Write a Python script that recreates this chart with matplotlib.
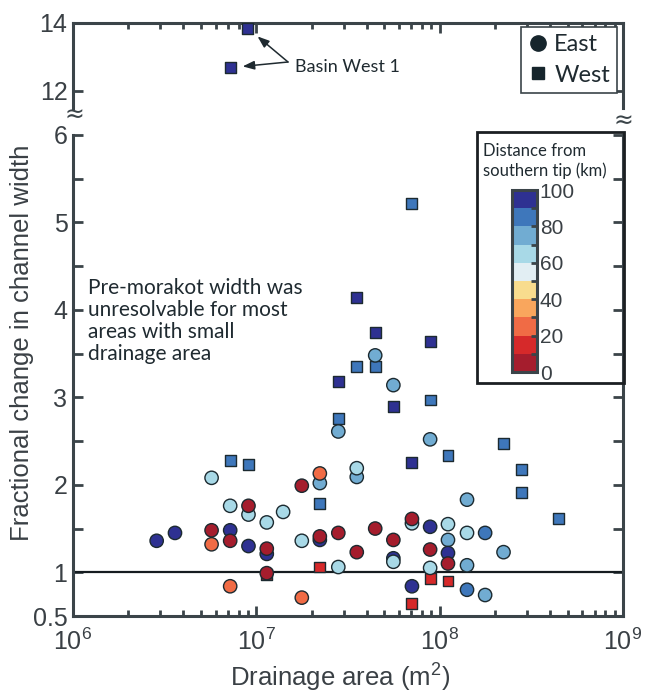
import numpy as np
import matplotlib
matplotlib.use("Agg")
import matplotlib.pyplot as plt
from matplotlib.colors import ListedColormap, BoundaryNorm
from matplotlib.lines import Line2D
from matplotlib.patches import Rectangle
import matplotlib.ticker as mticker

plt.rcParams["font.family"] = ["Liberation Sans", "DejaVu Sans"]
plt.rcParams["mathtext.default"] = "regular"

# ---- East basins (circles): drainage area (m^2), fractional width change, distance (km)
east_area = [2.86e6, 3.6e6,
             5.7e6, 5.7e6, 5.7e6,
             7.2e6, 7.2e6, 7.2e6, 7.2e6,
             9.06e6, 9.06e6, 9.06e6,
             1.14e7, 1.14e7, 1.14e7, 1.14e7,
             1.40e7,
             1.77e7, 1.77e7, 1.77e7,
             2.22e7, 2.22e7, 2.22e7, 2.22e7,
             2.8e7, 2.8e7, 2.8e7,
             3.53e7, 3.53e7, 3.53e7,
             4.45e7, 4.45e7,
             5.59e7, 5.59e7, 5.59e7, 5.59e7,
             7.06e7, 7.06e7, 7.06e7,
             8.87e7, 8.87e7, 8.87e7, 8.87e7,
             1.11e8, 1.11e8, 1.11e8, 1.11e8,
             1.41e8, 1.41e8, 1.41e8, 1.41e8,
             1.77e8, 1.77e8,
             2.23e8]
east_change = [1.36, 1.45,
               2.08, 1.48, 1.32,
               1.76, 1.48, 1.36, 0.84,
               1.66, 1.76, 1.30,
               1.57, 1.21, 1.27, 0.99,
               1.69,
               1.99, 1.36, 0.71,
               2.02, 2.13, 1.37, 1.41,
               2.61, 1.45, 1.06,
               2.09, 2.19, 1.23,
               3.48, 1.50,
               3.14, 1.37, 1.16, 1.12,
               1.56, 1.61, 0.84,
               2.52, 1.52, 1.26, 1.05,
               1.55, 1.37, 1.22, 1.10,
               1.83, 1.45, 1.08, 0.80,
               1.45, 0.74,
               1.23]
east_dist = [95, 95,
             65, 5, 25,
             65, 95, 5, 25,
             65, 5, 95,
             65, 95, 5, 5,
             65,
             5, 65, 25,
             75, 25, 95, 5,
             75, 5, 65,
             75, 65, 5,
             75, 5,
             75, 5, 95, 65,
             65, 5, 95,
             75, 95, 5, 65,
             65, 75, 95, 5,
             75, 65, 75, 85,
             85, 75,
             75]

# ---- West basins (squares)
west_area = [9.0e6, 7.2e6,
             7.2e6, 9.06e6, 1.14e7,
             2.22e7, 2.22e7,
             2.8e7, 2.8e7,
             3.53e7, 3.53e7,
             4.45e7, 4.45e7,
             5.59e7,
             7.06e7, 7.06e7, 7.06e7,
             8.87e7, 8.87e7, 8.87e7,
             1.11e8, 1.11e8,
             2.23e8, 2.8e8, 2.8e8, 4.45e8]
west_change = [13.84, 12.68,
               2.28, 2.23, 0.97,
               1.79, 1.06,
               3.18, 2.76,
               4.14, 3.35,
               3.74, 3.35,
               2.90,
               5.22, 2.26, 0.645,
               3.64, 2.97, 0.93,
               2.33, 0.90,
               2.47, 2.18, 1.91, 1.62]
west_dist = [95, 95,
             85, 85, 5,
             85, 15,
             95, 85,
             95, 85,
             95, 85,
             95,
             85, 95, 15,
             95, 85, 15,
             85, 15,
             85, 85, 85, 85]

dist_bounds = np.arange(0, 101, 10)
dist_colors = ["#a51d2d", "#d6292a", "#f06b45", "#f9a65d", "#f8dc8e",
               "#e2eef3", "#a8d9e7", "#71acd2", "#3e77bb", "#2e3192"]
cbar_ticks = [0, 20, 40, 60, 80, 100]

cmap = ListedColormap(dist_colors)
norm = BoundaryNorm(dist_bounds, cmap.N)

INK = "#3b4449"
EDGE = "#1c2a30"
TXT = "#3a4045"

W, H = 647, 693
fig = plt.figure(figsize=(W / 100, H / 100), dpi=100)


def px_box(l, t, r, b):
    return [l / W, 1 - b / H, (r - l) / W, (b - t) / H]


ax = fig.add_axes(px_box(73, 135, 623, 616))
axt = fig.add_axes(px_box(73, 23, 623, 107.5))

for a in (ax, axt):
    a.set_xscale("log")
    a.set_xlim(1e6, 1e9)
    for s in a.spines.values():
        s.set_color(INK)
        s.set_linewidth(2.2)
    a.scatter(west_area, west_change, c=west_dist, cmap=cmap, norm=norm,
              marker="s", s=62, edgecolors=EDGE, linewidths=1.0, zorder=3)
    a.scatter(east_area, east_change, c=east_dist, cmap=cmap, norm=norm,
              marker="o", s=92, edgecolors=EDGE, linewidths=1.0, zorder=4)

# lower panel
ax.set_ylim(0.5, 6)
ax.spines["top"].set_visible(False)
ax.set_yticks([0.5, 1, 2, 3, 4, 5, 6])
ax.set_yticklabels(["0.5", "1", "2", "3", "4", "5", "6"])
ax.set_yticks([1.5, 2.5, 3.5, 4.5, 5.5], minor=True)
ax.xaxis.set_major_locator(mticker.LogLocator(base=10, numticks=10))
ax.xaxis.set_minor_locator(mticker.LogLocator(base=10, subs=np.arange(2, 10), numticks=10))
ax.xaxis.set_minor_formatter(mticker.NullFormatter())
ax.tick_params(axis="both", which="both", direction="in", color=INK, width=2,
               labelcolor=TXT, labelsize=18)
ax.tick_params(axis="y", which="both", length=7, right=True, pad=4)
ax.tick_params(axis="x", which="major", length=7, top=False, pad=9)
ax.tick_params(axis="x", which="minor", length=4, top=False)
ax.axhline(1, color="#151c20", lw=1.6, zorder=2)

# upper panel
axt.set_ylim(11.5, 14)
axt.spines["bottom"].set_visible(False)
axt.set_yticks([12, 14])
axt.xaxis.set_major_locator(mticker.LogLocator(base=10, numticks=10))
axt.xaxis.set_minor_locator(mticker.LogLocator(base=10, subs=np.arange(2, 10), numticks=10))
axt.tick_params(axis="both", which="both", direction="in", color=INK, width=2,
                labelcolor=TXT, labelsize=18)
axt.tick_params(axis="x", which="both", bottom=False, top=True,
                labelbottom=False, labeltop=False)
axt.tick_params(axis="x", which="major", length=7)
axt.tick_params(axis="x", which="minor", length=4)
axt.tick_params(axis="y", length=7, right=True, pad=4)

# axis break marks
fig.text(74 / W, 1 - 115 / H, "\u2248", ha="center", va="center", fontsize=17, color=INK,
         family="DejaVu Sans")
fig.text(623 / W, 1 - 121 / H, "\u2248", ha="center", va="center", fontsize=17, color=INK,
         family="DejaVu Sans")

# axis titles
fig.text(22 / W, 1 - 343 / H, "Fractional change in channel width", rotation=90,
         ha="center", va="center", fontsize=18.5, color=TXT)
fig.text(340 / W, 1 - 678 / H, "Drainage area (m$^2$)", ha="center", va="center",
         fontsize=18.5, color=TXT)

# annotations
ax.text(88 / W, 1 - 278 / H, "Pre-morakot width was\nunresolvable for most\nareas with small\ndrainage area",
        transform=fig.transFigure, ha="left", va="top", fontsize=15, color="#1f2a30",
        family="Lato", linespacing=1.13)
fig.text(295 / W, 1 - 67 / H, "Basin West 1", ha="left", va="center", fontsize=13,
         color="#1f2a30", family="Lato")
for i in range(2):
    axt.annotate("", xy=(west_area[i], west_change[i]),
                 xytext=(288 / W, 1 - 62 / H), textcoords="figure fraction",
                 arrowprops=dict(arrowstyle="-|>,head_length=0.7,head_width=0.26",
                                 color="#1f2a30", lw=1.1, shrinkA=0, shrinkB=9))

# legend
handles = [Line2D([], [], marker="o", ls="none", color="#16252c", markersize=11),
           Line2D([], [], marker="s", ls="none", color="#16252c", markersize=9)]
leg = axt.legend(handles, ["East", "West"], loc="upper right",
                 bbox_to_anchor=(617 / W, 1 - 27 / H), bbox_transform=fig.transFigure,
                 frameon=True, fancybox=False, framealpha=1, edgecolor=INK,
                 prop=dict(family="Lato", size=17), handlelength=0.8, handletextpad=0.3,
                 borderpad=0.3, labelspacing=0.4, borderaxespad=0)
leg.get_frame().set_linewidth(1.2)
for t in leg.get_texts():
    t.set_color("#1f2a30")
leg.set_zorder(10)

# colour bar panel
fig.patches.append(Rectangle((477 / W, 1 - 383 / H), 147 / W, 251 / H,
                             transform=fig.transFigure, fill=False,
                             edgecolor="#1b1f22", lw=2.0, zorder=5))
fig.text(483 / W, 1 - 161 / H, "Distance from\nsouthern tip (km)", ha="left", va="center",
         fontsize=12, color="#1f2a30", family="Lato", linespacing=1.2)
cax = fig.add_axes(px_box(512, 190, 537, 372))
cax.set_zorder(6)
sm = matplotlib.cm.ScalarMappable(norm=norm, cmap=cmap)
cb = fig.colorbar(sm, cax=cax, ticks=cbar_ticks)
cb.outline.set_edgecolor(INK)
cb.outline.set_linewidth(2.2)
cax.yaxis.set_minor_locator(mticker.FixedLocator(dist_bounds))
cax.tick_params(which="both", direction="in", length=4, width=2, color=INK,
                labelsize=15, labelcolor=TXT, pad=2)

fig.savefig("out.png", dpi=100)
